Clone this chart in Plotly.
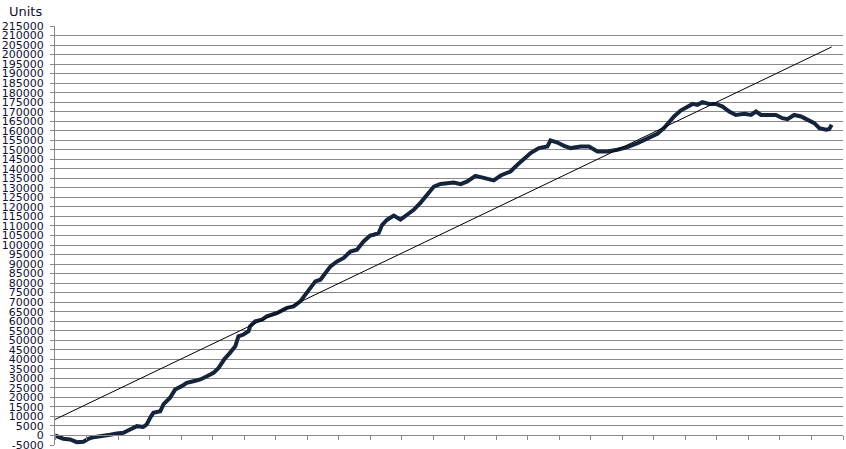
import plotly.graph_objects as go

# Trade index (x) and cumulative units (y)
trade = [0, 26, 48, 69, 90, 106, 122, 153, 175, 196, 217, 238, 260, 280, 291, 302, 312, 334, 344, 365,
         381, 402, 418, 439, 461, 482, 503, 519, 537, 553, 572, 582, 598, 614, 619, 635, 657, 672, 704, 736,
         757, 778, 794, 810, 826, 842, 858, 874, 895, 916, 937, 958, 979, 1000, 1011, 1027, 1038, 1054, 1075, 1096,
         1117, 1138, 1160, 1181, 1202, 1223, 1244, 1265, 1287, 1308, 1334, 1355, 1371, 1392, 1414, 1445, 1467, 1488, 1509, 1535,
         1562, 1572, 1594, 1615, 1636, 1668, 1694, 1721, 1753, 1784, 1816, 1848, 1880, 1911, 1932, 1948, 1964, 1985, 2007, 2023,
         2038, 2054, 2075, 2097, 2118, 2139, 2160, 2187, 2208, 2224, 2240, 2261, 2287, 2308, 2324, 2345, 2367, 2388, 2409, 2425,
         2446, 2456, 2464]
units = [0, -1700, -2100, -3500, -3300, -1700, -900, -400, 400, 1000, 1400, 3100, 4900, 4500, 5800, 9300, 11900, 12700, 16300, 19800,
         24100, 25900, 27600, 28500, 29400, 31100, 32900, 35500, 40000, 43000, 46800, 52100, 53000, 54700, 57300, 59900, 60800, 62600, 64300, 67000,
         67800, 70400, 73900, 77400, 80900, 81800, 85300, 88800, 91400, 93200, 96600, 97500, 101900, 105000, 105400, 106300, 110600, 113300, 115500, 113300,
         115900, 118500, 122300, 126400, 130700, 132100, 132500, 132800, 132000, 133400, 136300, 135400, 135100, 133900, 136500, 138600, 142100, 145100, 148300, 150900,
         151700, 154900, 153800, 152100, 150900, 151700, 151700, 149100, 149100, 150000, 151400, 153500, 156100, 158400, 161400, 164800, 167500, 170600, 172700, 174100,
         173600, 175000, 174100, 174100, 172700, 170100, 168300, 168900, 168300, 170100, 168300, 168300, 168300, 166600, 166100, 168300, 167500, 165700, 164000, 161400,
         160500, 160800, 163100]

# Linear trend line end points
trend_x = [0, 2464]
trend_y = [8400, 204000]

y_ticks = list(range(-5000, 215001, 5000))

fig = go.Figure()
fig.add_trace(go.Scatter(x=trade, y=units, mode="lines",
                         line=dict(color="#15243d", width=4), hoverinfo="skip"))
fig.add_trace(go.Scatter(x=trend_x, y=trend_y, mode="lines",
                         line=dict(color="#000000", width=1), hoverinfo="skip"))

grid = "#8a8a8a"
fig.update_layout(
    width=846, height=449,
    margin=dict(l=55, r=3, t=26, b=4, autoexpand=False),
    paper_bgcolor="white", plot_bgcolor="white",
    showlegend=False,
    font=dict(family="DejaVu Sans", size=11, color="#111133"),
    xaxis=dict(range=[0, 2500], tick0=0, dtick=100, showgrid=False,
               showticklabels=False, ticks="outside", ticklen=4, tickcolor=grid,
               showline=True, linecolor=grid, linewidth=1, automargin=False,
               anchor="free", position=5000 / 220000, zeroline=False),
    yaxis=dict(range=[-5000, 215000], tickmode="array", tickvals=y_ticks,
               ticktext=[str(v) for v in y_ticks], automargin=False,
               showgrid=True, gridcolor=grid, gridwidth=1,
               ticks="outside", ticklen=4, tickcolor=grid,
               showline=True, linecolor=grid, linewidth=1,
               zeroline=False, ticklabelstandoff=4, ticklabeloverflow="allow"),
    annotations=[dict(text="Units", xref="paper", yref="paper",
                      x=(7 - 55) / 788, y=(445 - 12) / 419,
                      xanchor="left", yanchor="middle", showarrow=False,
                      font=dict(family="DejaVu Sans", size=13, color="#111133"))],
)

fig.write_html("out.html", config={"displayModeBar": False},
               post_script="document.body.style.margin='0';document.body.style.overflow='hidden';")
